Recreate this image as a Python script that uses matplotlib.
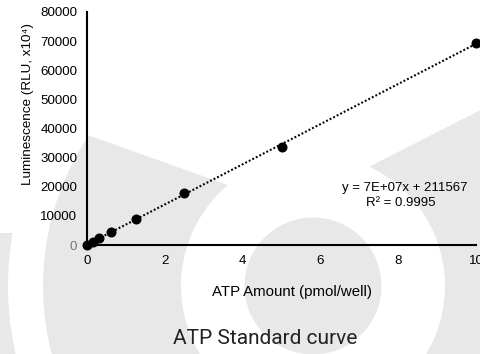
import numpy as np
import matplotlib.pyplot as plt
from matplotlib.patches import Circle, Wedge, Polygon

# --- data ---
atp_pmol = [0, 0.156, 0.3125, 0.625, 1.25, 2.5, 5, 10]
luminescence = [150, 1200, 2300, 4500, 8900, 17800, 33500, 69500]
x_ticks = [0, 2, 4, 6, 8, 10]
y_ticks = [0, 10000, 20000, 30000, 40000, 50000, 60000, 70000, 80000]
equation_text = "y = 7E+07x + 211567"
r2_text = "R\u00b2 = 0.9995"

W, H = 481, 354
fig = plt.figure(figsize=(W / 100, H / 100), dpi=100)

# --- watermark in the background (pixel coords, y down) ---
bg = fig.add_axes([0, 0, 1, 1], zorder=0)
bg.set_xlim(0, W)
bg.set_ylim(H, 0)
bg.axis("off")
grey = "#e8e8e8"
cx, cy = 313, 286

band = Wedge((cx, cy), 270, 0, 360, width=138, color=grey, lw=0)
cut = Polygon([(-50, 86), (289.6, 207), (600, 49.5), (600, 500), (-50, 500)],
              closed=True, transform=bg.transData)
bg.add_patch(band)
band.set_clip_path(cut)

outer = Wedge((cx, cy), 500, 0, 360, width=195, color=grey, lw=0)
cut2 = Polygon([(-50, 233), (600, 233), (600, 500), (-50, 500)],
               closed=True, transform=bg.transData)
bg.add_patch(outer)
outer.set_clip_path(cut2)

bg.add_patch(Circle((cx, cy), 68.5, color=grey, lw=0))

# --- main chart ---
ax = fig.add_axes([87 / W, 109 / H, (476 - 87) / W, (245 - 12) / H], zorder=1)
ax.set_facecolor("none")

fit = np.polyfit(atp_pmol, luminescence, 1)
xs = np.array([0, 10])
ax.plot(xs, np.polyval(fit, xs), color="black", lw=1.5,
        dashes=(0.9, 1.0), zorder=2, clip_on=False)
ax.plot(atp_pmol, luminescence, "o", color="black", ms=6.2, zorder=3, clip_on=False)

ax.set_xlim(0, 10)
ax.set_ylim(0, 80000)
ax.set_xticks(x_ticks)
ax.set_yticks(y_ticks)
ax.set_xticklabels([str(t) for t in x_ticks])
ax.set_yticklabels([str(t) for t in y_ticks])
ax.tick_params(length=0, labelsize=9.6, pad=7)
ax.tick_params(axis="y", pad=7)
ax.get_yticklabels()[0].set_color("#777777")
for lab in ax.get_xticklabels() + ax.get_yticklabels():
    lab.set_fontfamily("Liberation Sans")

for side in ["top", "right"]:
    ax.spines[side].set_visible(False)
for side in ["left", "bottom"]:
    ax.spines[side].set_linewidth(1.5)
    ax.spines[side].set_color("black")

ax.text(0.817, 0.245, equation_text, transform=ax.transAxes, ha="center",
        va="center", fontsize=9.5, family="Liberation Sans")
ax.text(0.806, 0.18, r2_text, transform=ax.transAxes, ha="center",
        va="center", fontsize=9.5, family="Liberation Sans")

fig.text(292 / W, 1 - 292 / H, "ATP Amount (pmol/well)", ha="center", va="center",
         fontsize=10.8, family="Liberation Sans")
fig.text(28 / W, 1 - 104 / H, "Luminescence (RLU, x10\u2074)", ha="center",
         va="center", rotation=90, fontsize=9.7, family="Liberation Sans")
fig.text(265 / W, 1 - 338 / H, "ATP Standard curve", ha="center", va="center",
         fontsize=15, family="Roboto", color="#222222")

fig.savefig("out.png", dpi=100)
